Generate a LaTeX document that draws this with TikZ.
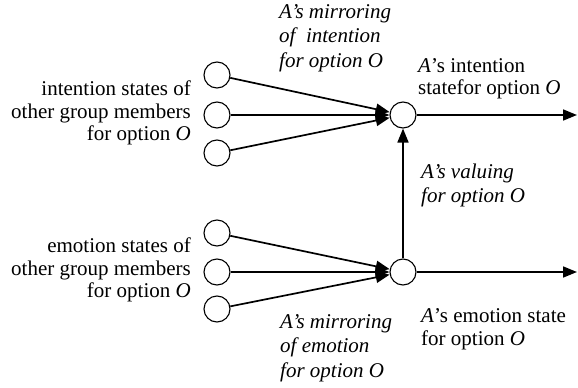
\documentclass[tikz,border=0pt]{standalone}
\usepackage{fontspec}
\setmainfont{Liberation Serif}
\usepackage{tikz}
\usetikzlibrary{arrows.meta, calc}

\tikzset{
    unit/.style={circle, draw, line width=1.1pt, minimum size=26pt, inner sep=0pt},
    link/.style={line width=1.7pt, -{Triangle[length=14pt, width=11pt]}},
    lbl/.style={inner sep=0pt, font=\fontsize{21}{22.5}\selectfont},
}

\begin{document}
\begin{tikzpicture}[x=1pt, y=-1pt]
    \useasboundingbox (0,0) rectangle (578,388);

    % --- INTENTION GROUP (TOP) ---
    \node[unit] (i1) at (217,75) {};
    \node[unit] (i2) at (217,115) {};
    \node[unit] (i3) at (217,153) {};
    \node[unit] (ti) at (403,115) {};
    \coordinate (ti-out) at (577,115);

    % --- EMOTION GROUP (BOTTOM) ---
    \node[unit] (e1) at (217,233) {};
    \node[unit] (e2) at (217,272) {};
    \node[unit] (e3) at (217,309) {};
    \node[unit] (te) at (403,272) {};
    \coordinate (te-out) at (577,272);

    % Connectors
    \foreach \n in {i1,i2,i3} \draw[link] (\n) -- (ti);
    \foreach \n in {e1,e2,e3} \draw[link] (\n) -- (te);
    \draw[link] (ti) -- (ti-out);
    \draw[link] (te) -- (te-out);
    \draw[link] (te) -- (ti);

    % Labels
    \node[lbl, anchor=east, align=right] (i-txt) at (191,113)
        {intention states of\\other group members\\for option \textit{O}};
    \node[lbl, anchor=east, align=right] (e-txt) at (191,270)
        {emotion states of\\other group members\\for option \textit{O}};
    \node[lbl, anchor=west, align=left, font=\fontsize{21}{24.5}\selectfont\itshape] (mi-txt) at (279,38)
        {A’s mirroring\\of~ intention\\for option O};
    \node[lbl, anchor=west, align=left] (ti-txt) at (418,79)
        {\textit{A}’s intention\\statefor option \textit{O}};
    \node[lbl, anchor=west, align=left, font=\fontsize{21}{24}\selectfont\itshape] (va-txt) at (421,185)
        {A’s valuing\\for option O};
    \node[lbl, anchor=west, align=left] (te-txt) at (421,329)
        {\textit{A}’s emotion state\\for option \textit{O}};
    \node[lbl, anchor=west, align=left, font=\fontsize{21}{24.5}\selectfont\itshape] (me-txt) at (280,348)
        {A’s mirroring\\of emotion\\for option O};
\end{tikzpicture}
\end{document}
